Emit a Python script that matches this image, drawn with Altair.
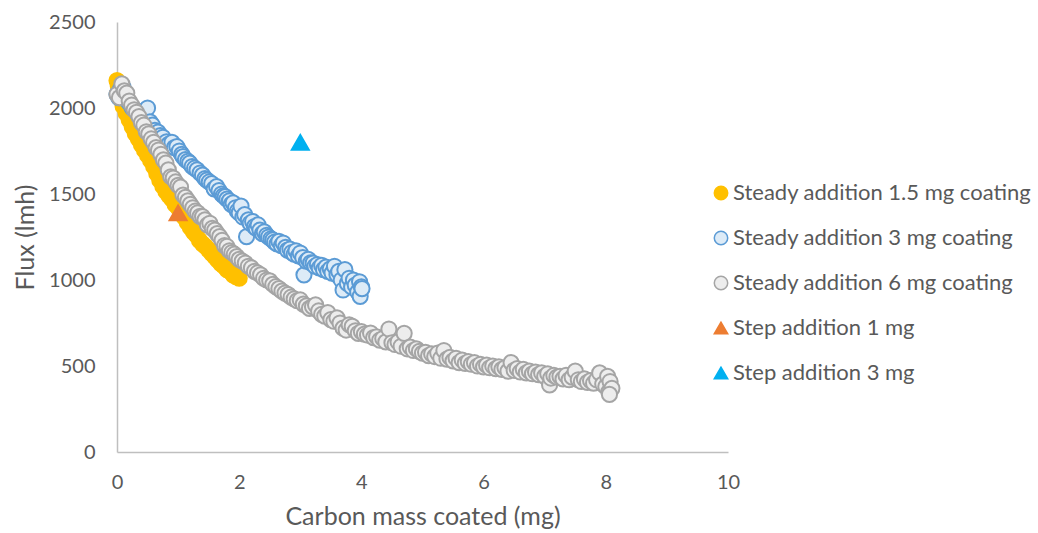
import altair as alt
import pandas as pd

S1 = "Steady addition 1.5 mg coating"
S2 = "Steady addition 3 mg coating"
S3 = "Steady addition 6 mg coating"
S4 = "Step addition 1 mg"
S5 = "Step addition 3 mg"

# Steady addition 1.5 mg coating (yellow)
y15_x = [0.00, 0.02, 0.05, 0.08, 0.10, 0.15, 0.20, 0.25, 0.30, 0.35, 0.40, 0.45, 0.50, 0.55,
         0.60, 0.65, 0.70, 0.75, 0.80, 0.85, 0.90, 0.95, 1.00, 1.05, 1.10, 1.15, 1.20, 1.25,
         1.30, 1.35, 1.40, 1.45, 1.50, 1.55, 1.60, 1.65, 1.70, 1.75, 1.80, 1.85, 1.90, 1.95, 2.00]
y15_y = [2160, 2130, 2080, 2040, 2010, 1970, 1930, 1890, 1850, 1820, 1785, 1755, 1725, 1695,
         1660, 1620, 1580, 1545, 1515, 1490, 1470, 1440, 1420, 1395, 1365, 1335, 1305, 1280,
         1260, 1230, 1210, 1195, 1175, 1155, 1135, 1115, 1095, 1080, 1060, 1050, 1030, 1020, 1010]

# Steady addition 3 mg coating (blue)
b3_x = [0.00, 0.03, 0.06, 0.10, 0.15, 0.20, 0.25, 0.30, 0.35, 0.40, 0.45, 0.50, 0.54, 0.58,
        0.62, 0.67, 0.71, 0.75, 0.81, 0.85, 0.90, 0.94, 0.98, 1.02, 1.06, 1.08, 1.12, 1.16,
        1.19, 1.23, 1.27, 1.31, 1.36, 1.40, 1.44, 1.47, 1.51, 1.55, 1.59, 1.63, 1.67, 1.71,
        1.74, 1.77, 1.80, 1.84, 1.87, 1.90, 1.94, 1.97, 2.00, 2.03, 2.06, 2.09, 2.12, 2.15,
        2.18, 2.22, 2.25, 2.28, 2.31, 2.34, 2.38, 2.41, 2.45, 2.48, 2.52, 2.55, 2.58, 2.62,
        2.65, 2.69, 2.72, 2.76, 2.79, 2.83, 2.86, 2.90, 2.93, 2.97, 3.00, 3.04, 3.06, 3.10,
        3.13, 3.17, 3.21, 3.24, 3.28, 3.31, 3.35, 3.38, 3.42, 3.45, 3.49, 3.52, 3.56, 3.60,
        3.63, 3.67, 3.70, 3.73, 3.77, 3.80, 3.84, 3.87, 3.90, 3.94, 3.97, 4.00, 3.98, 4.01]
b3_y = [2080, 2060, 2110, 2120, 2050, 2030, 2000, 1990, 1960, 1940, 1920, 2000, 1919, 1900,
        1870, 1860, 1840, 1830, 1804, 1790, 1800, 1770, 1775, 1750, 1730, 1717, 1700, 1690,
        1680, 1660, 1650, 1640, 1622, 1610, 1590, 1581, 1570, 1560, 1530, 1543, 1520, 1500,
        1490, 1485, 1470, 1460, 1440, 1448, 1420, 1400, 1390, 1430, 1366, 1380, 1252, 1350,
        1330, 1340, 1310, 1300, 1320, 1290, 1270, 1280, 1260, 1250, 1240, 1233, 1220, 1210,
        1225, 1200, 1215, 1190, 1174, 1180, 1160, 1150, 1170, 1140, 1157, 1130, 1030, 1110,
        1120, 1100, 1099, 1080, 1090, 1070, 1085, 1060, 1075, 1050, 1065, 1040, 1080, 1030,
        1050, 1000, 942, 1060, 980, 1010, 960, 1000, 970, 930, 990, 960, 905, 950]

# Steady addition 6 mg coating (grey)
g6_x = [0.00, 0.04, 0.08, 0.12, 0.16, 0.20, 0.24, 0.28, 0.32, 0.36, 0.40, 0.44, 0.48, 0.52,
        0.56, 0.60, 0.64, 0.68, 0.72, 0.76, 0.80, 0.84, 0.88, 0.92, 0.96, 1.00, 1.04, 1.08,
        1.12, 1.16, 1.20, 1.24, 1.28, 1.32, 1.36, 1.40, 1.44, 1.48, 1.52, 1.56, 1.60, 1.64,
        1.68, 1.72, 1.76, 1.80, 1.84, 1.88, 1.92, 1.96, 2.00, 2.05, 2.10, 2.15, 2.20, 2.25,
        2.30, 2.35, 2.40, 2.45, 2.50, 2.55, 2.60, 2.65, 2.70, 2.75, 2.80, 2.85, 2.90, 2.95,
        3.00, 3.05, 3.10, 3.15, 3.20, 3.25, 3.30, 3.35, 3.40, 3.45, 3.50, 3.55, 3.60, 3.65,
        3.70, 3.75, 3.80, 3.85, 3.90, 3.95, 4.00, 4.05, 4.10, 4.15, 4.20, 4.25, 4.30, 4.35,
        4.40, 4.45, 4.50, 4.55, 4.60, 4.65, 4.70, 4.75, 4.80, 4.85, 4.90, 4.95, 5.00, 5.05,
        5.10, 5.15, 5.20, 5.25, 5.30, 5.35, 5.40, 5.45, 5.50, 5.55, 5.60, 5.65, 5.70, 5.75,
        5.80, 5.85, 5.90, 5.95, 6.00, 6.05, 6.10, 6.15, 6.20, 6.25, 6.30, 6.35, 6.40, 6.45,
        6.50, 6.55, 6.60, 6.65, 6.70, 6.75, 6.80, 6.85, 6.90, 6.95, 7.00, 7.05, 7.08, 7.10,
        7.15, 7.20, 7.25, 7.30, 7.35, 7.40, 7.45, 7.50, 7.55, 7.60, 7.65, 7.70, 7.75, 7.80,
        7.85, 7.90, 7.95, 8.00, 8.03, 8.05, 8.07, 8.10, 8.06]
g6_y = [2080, 2060, 2140, 2100, 2087, 2040, 2017, 1990, 1975, 1950, 1915, 1900, 1862, 1850,
        1820, 1800, 1770, 1756, 1730, 1698, 1680, 1640, 1600, 1593, 1570, 1550, 1540, 1494,
        1480, 1460, 1440, 1420, 1400, 1390, 1370, 1368, 1350, 1320, 1330, 1300, 1290, 1270,
        1252, 1230, 1200, 1195, 1170, 1160, 1150, 1136, 1120, 1110, 1099, 1080, 1070, 1050,
        1041, 1030, 1010, 1000, 995, 975, 961, 950, 935, 924, 915, 900, 890, 880,
        884, 860, 850, 835, 845, 855, 820, 800, 790, 810, 770, 760, 780, 750,
        720, 709, 740, 730, 705, 690, 700, 685, 680, 692, 665, 670, 650, 660,
        640, 715, 635, 625, 640, 615, 690, 600, 610, 590, 600, 585, 575, 580,
        560, 570, 555, 575, 545, 590, 540, 550, 530, 545, 520, 535, 515, 525,
        510, 520, 500, 510, 495, 505, 490, 500, 485, 495, 480, 490, 470, 520,
        475, 485, 465, 480, 460, 470, 455, 465, 450, 460, 440, 455, 390, 430,
        445, 435, 440, 425, 445, 420, 435, 470, 420, 410, 425, 405, 415, 400,
        420, 460, 395, 380, 440, 350, 410, 370, 335]

# Step additions (triangles)
s1_x = [1.0]
s1_y = [1390]
s3_x = [3.0]
s3_y = [1800]

order = [S1, S2, S3, S4, S5]
fills = ["#FFC000", "#DDEBF7", "#EDEDED", "#ED7D31", "#00B0F0"]
strokes = ["#FFC000", "#5B9BD5", "#A5A5A5", "#ED7D31", "#00B0F0"]
shapes = ["circle", "circle", "circle", "triangle-up", "triangle-up"]

frames = []
for name, xs, ys in [(S1, y15_x, y15_y), (S2, b3_x, b3_y), (S3, g6_x, g6_y),
                     (S4, s1_x, s1_y), (S5, s3_x, s3_y)]:
    frames.append(pd.DataFrame({"x": xs, "y": ys, "series": name}))
df = pd.concat(frames, ignore_index=True)
df["ord"] = range(len(df))
df["sz"] = [289 if s in (S4, S5) else 230 for s in df["series"]]

FONT = "Lato"
TXT = "#595959"

legend = alt.Legend(
    title=None, orient="none", legendX=593, legendY=160,
    labelFontSize=22, labelFont=FONT, labelColor=TXT, labelLimit=400,
    symbolSize=180, symbolStrokeWidth=1.5, rowPadding=23, labelOffset=1,
)

chart = alt.Chart(df).mark_point(filled=True, strokeWidth=2, opacity=1).encode(
    x=alt.X("x:Q", scale=alt.Scale(domain=[0, 10], nice=False),
            axis=alt.Axis(values=[0, 2, 4, 6, 8, 10], format="d", title="Carbon mass coated (mg)",
                          grid=False, ticks=False, domainColor="#BFBFBF", domainWidth=1.5,
                          labelFlush=False, labelOverlap=False,
                          labelFont=FONT, labelFontSize=20, labelColor=TXT, labelPadding=20,
                          titleFont=FONT, titleFontSize=25, titleColor=TXT, titleFontWeight="normal",
                          titlePadding=12)),
    y=alt.Y("y:Q", scale=alt.Scale(domain=[0, 2500], nice=False),
            axis=alt.Axis(values=[0, 500, 1000, 1500, 2000, 2500], format="d", title="Flux  (lmh)",
                          grid=False, ticks=False, domainColor="#BFBFBF", domainWidth=1.5,
                          labelFlush=False, labelOverlap=False,
                          labelFont=FONT, labelFontSize=20, labelColor=TXT, labelPadding=22,
                          titleFont=FONT, titleFontSize=25, titleColor=TXT, titleFontWeight="normal",
                          titlePadding=10)),
    fill=alt.Fill("series:N", scale=alt.Scale(domain=order, range=fills), legend=legend, sort=order),
    stroke=alt.Stroke("series:N", scale=alt.Scale(domain=order, range=strokes), legend=legend, sort=order),
    shape=alt.Shape("series:N", scale=alt.Scale(domain=order, range=shapes), legend=legend, sort=order),
    size=alt.Size("sz:Q", scale=None, legend=None),
    order=alt.Order("ord:Q"),
).properties(
    width=611, height=430,
    autosize=alt.AutoSizeParams(type="none"),
    padding={"left": 117, "top": 22, "right": 310, "bottom": 81},
    background="white",
).configure_view(strokeWidth=0, stroke="transparent")

chart.save("out.html", embed_options={"renderer": "svg", "actions": False})
